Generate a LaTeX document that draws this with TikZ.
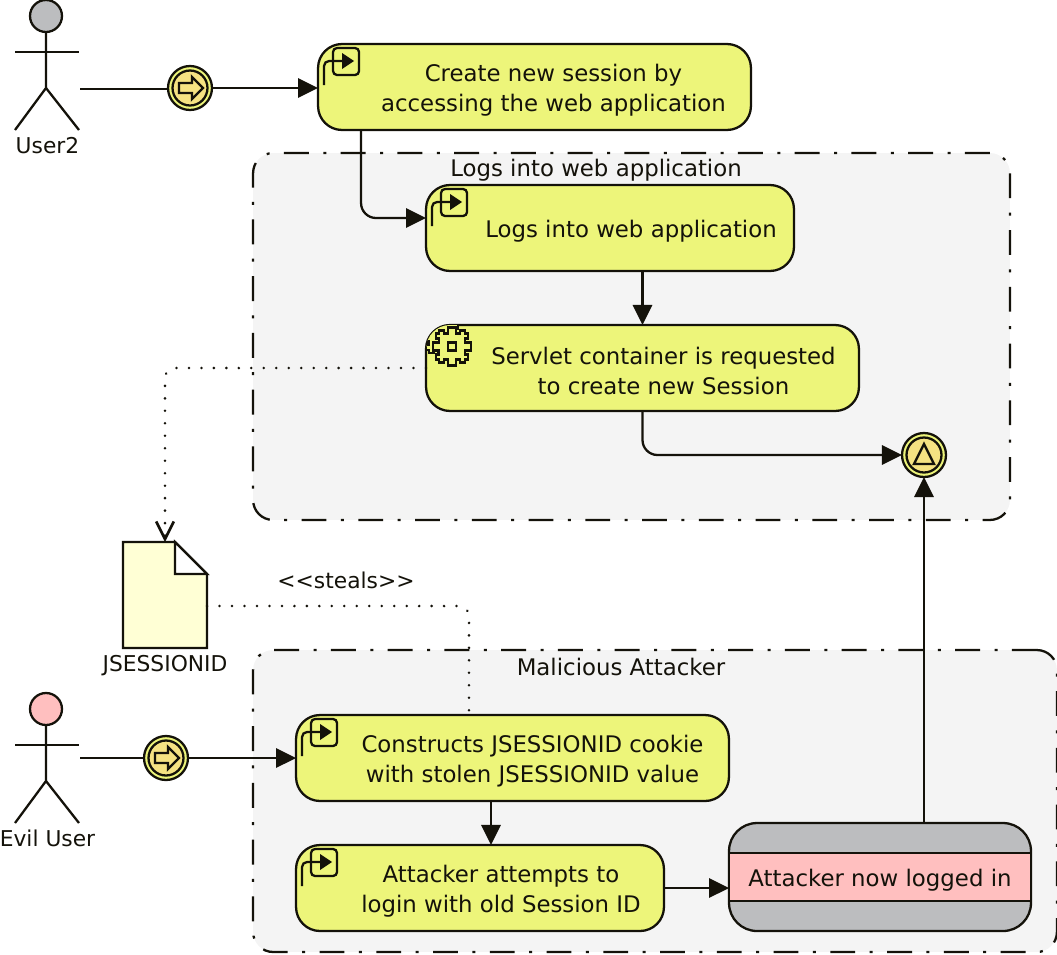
\documentclass[tikz,border=0pt]{standalone}
\usepackage{fontspec}
\setmainfont{DejaVu Sans}
\usepackage{xcolor}
\usepackage{tikz}
\usetikzlibrary{shapes, arrows.meta, positioning}
\definecolor{taskyellow}{RGB}{237, 245, 122}
\definecolor{eventyellow}{RGB}{245, 226, 130}
\definecolor{groupgrey}{RGB}{244, 244, 244}
\definecolor{headgrey}{RGB}{188, 189, 191}
\definecolor{evilpink}{RGB}{255, 191, 191}
\definecolor{docyellow}{RGB}{255, 255, 213}
\definecolor{inkblack}{RGB}{20, 18, 10}
\tikzset{
  every node/.style={outer sep=0pt, text=inkblack, font=\fontsize{13}{17}\selectfont},
  line/.style={draw=inkblack, line width=1.3pt},
  flow/.style={line, rounded corners=0.3cm, -{Triangle[length=11.4pt, width=11pt]}},
  assoc/.style={draw=inkblack, line width=1.5pt, line cap=round, dash pattern=on 0.1pt off 7pt, rounded corners=0.2cm},
  taskbox/.style={line, fill=taskyellow, rounded corners=0.48cm, inner sep=0pt},
  tasktext/.style={align=center, inner sep=0pt, yshift=-0.06cm},
  groupbox/.style={draw=inkblack, line width=1.3pt, fill=groupgrey, rounded corners=0.4cm, inner sep=0pt,
    dash pattern=on 14.2pt off 8.2pt on 1.7pt off 8.2pt},
  eventring/.style={circle, line, fill=taskyellow, minimum size=0.88cm, inner sep=0pt},
  actortext/.style={inner sep=0pt, font=\fontsize{12.4}{17}\selectfont}
}
\newcommand{\gearoutline}{
  ([rotate=0]-4,-19) \foreach \a in {0,-90,-180,-270} {
    -- ([rotate=\a]4,-19) -- ([rotate=\a]4,-13) -- ([rotate=\a]8,-13) -- ([rotate=\a]8,-16)
    -- ([rotate=\a]13,-16) -- ([rotate=\a]13,-13) -- ([rotate=\a]16,-13) -- ([rotate=\a]16,-8)
    -- ([rotate=\a]13,-8) -- ([rotate=\a]13,-4) -- ([rotate=\a]19,-4) } -- cycle
}
\begin{document}
\begin{tikzpicture}[x=0.02cm, y=-0.02cm]
  \useasboundingbox (0,0) rectangle (1057,954);

  \node[groupbox, minimum width=15.14cm, minimum height=7.34cm] (logingroup) at (631.5,336.5) {};
  \node[groupbox, minimum width=16.08cm, minimum height=6.04cm] (attackgroup) at (655,801) {};
  \node[tasktext] (logingrouptitle) at (596,167) {Logs into web application};
  \node[tasktext] (attackgrouptitle) at (621,664) {Malicious Attacker};

  \node[taskbox, minimum width=8.66cm, minimum height=1.72cm] (createtask) at (534.5,87) {};
  \node[taskbox, minimum width=7.36cm, minimum height=1.72cm] (logintask) at (610,228) {};
  \node[taskbox, minimum width=8.66cm, minimum height=1.72cm] (servlettask) at (642.5,368) {};
  \node[taskbox, minimum width=8.66cm, minimum height=1.72cm] (constructtask) at (512.5,758) {};
  \node[taskbox, minimum width=7.36cm, minimum height=1.72cm] (attempttask) at (480,888) {};

  \node[tasktext] (createtext) at ([xshift=0.38cm]createtask.center) {Create new session by\\accessing the web application};
  \node[tasktext] (logintext) at ([xshift=0.42cm]logintask.center) {Logs into web application};
  \node[tasktext] (servlettext) at ([xshift=0.42cm]servlettask.center) {Servlet container is requested\\to create new Session};
  \node[tasktext] (constructtext) at ([xshift=0.4cm]constructtask.center) {Constructs JSESSIONID cookie\\with stolen JSESSIONID value};
  \node[tasktext] (attempttext) at ([xshift=0.42cm]attempttask.center) {Attacker attempts to\\login with old Session ID};

  % user task marker
  \foreach \t in {createtask, logintask, constructtask, attempttask} {
    \begin{scope}[shift={(\t.north west)}]
      \draw[line, fill=taskyellow, rounded corners=0.08cm] (15,4) rectangle (41,31);
      \draw[line, rounded corners=0.1cm] (6,41) -- (6,17) -- (24,17);
      \fill[inkblack] (24,9) -- (36,17) -- (24,25) -- cycle;
    \end{scope}
  }

  % gears
  \begin{scope}
    \clip[rounded corners=0.48cm] (servlettask.south west) rectangle (servlettask.north east);
    \begin{scope}[shift={(servlettask.north west)}, shift={(16,12)}]
      \draw[line, fill=taskyellow] \gearoutline;
    \end{scope}
  \end{scope}
  \begin{scope}[shift={(servlettask.north west)}, shift={(26,21.5)}]
    \draw[line, fill=taskyellow] \gearoutline;
    \draw[line] (-4,-4) rectangle (4,4);
  \end{scope}

  % actors
  \foreach \who/\top/\handy/\col/\txt in {user/0/89/headgrey/User2, evil/693/65/evilpink/Evil User} {
    \begin{scope}[yshift=-0.02cm*\top]
      \node[circle, line, fill=\col, minimum size=0.64cm, inner sep=0pt] (\who head) at (46,16) {};
      \draw[line] (\who head.south) -- (46,88) -- (15,130);
      \draw[line] (46,88) -- (79,130);
      \draw[line] (15,52) -- (79,52);
      \node[actortext] (\who name) at (47.5,145.5) {\txt};
      \coordinate (\who hand) at (80,\handy);
    \end{scope}
  }

  % start and end events
  \foreach \e/\ex/\ey in {userstart/190/88, evilstart/166/758} {
    \node[eventring] (\e) at (\ex,\ey) {};
    \node[circle, line, fill=eventyellow, minimum size=0.7cm, inner sep=0pt] (\e core) at (\e.center) {};
    \draw[line, fill=eventyellow, shift={(\e.center)}] (-11,-5) -- (2,-5) -- (2,-11) -- (13,0) -- (2,11) -- (2,5) -- (-11,5) -- cycle;
  }
  \node[eventring] (loggedend) at (924,455) {};
  \node[circle, line, fill=eventyellow, minimum size=0.7cm, inner sep=0pt] (loggedendcore) at (loggedend.center) {};
  \draw[line, shift={(loggedend.center)}] (0,-11) -- (10,9) -- (-10,9) -- cycle;

  % document
  \node[minimum width=1.68cm, minimum height=2.12cm, inner sep=0pt] (jsessiondoc) at (165,595) {};
  \draw[line, fill=docyellow] (123,542) -- (175,542) -- (207,574) -- (207,648) -- (123,648) -- cycle;
  \draw[line, fill=white] (175,542) -- (207,574) -- (175,574) -- cycle;
  \node[actortext] (jsessionname) at (165,666) {JSESSIONID};
  \node[actortext] (stealslabel) at (346,580) {<{}<steals>{}>};

  % state
  \node[line, fill=headgrey, rounded corners=0.56cm, minimum width=6.04cm, minimum height=2.16cm, inner sep=0pt] (loggedbox) at (880,877) {};
  \node[line, fill=evilpink, minimum width=6.04cm, minimum height=0.96cm, inner sep=0pt] (loggedband) at (880,877) {};
  \node[tasktext] (loggedtext) at (loggedband.center) {Attacker now logged in};

  \draw[line] (userhand) -- (userhand -| userstart.west);
  \draw[flow] (userstart.east) -- (userstart.east -| createtask.west);
  \draw[line] (evilhand) -- (evilhand -| evilstart.west);
  \draw[flow] (evilstart.east) -- (evilstart.east -| constructtask.west);
  \draw[flow] ([xshift=0.86cm]createtask.south west) |- ([yshift=0.2cm]logintask.west);
  \draw[flow] (servlettask.north |- logintask.south) -- (servlettask.north);
  \draw[flow] (servlettask.south) |- (loggedend.west);
  \draw[flow] ([xshift=0.22cm]attempttask.north |- constructtask.south) -- ([xshift=0.22cm]attempttask.north);
  \draw[flow] (attempttask.east) -- (attempttask.east -| loggedbox.west);
  \draw[flow] (loggedend.south |- loggedbox.north) -- (loggedend.south);

  \draw[assoc, -{Straight Barb[length=10pt, width=10pt]}] (servlettask.west) -| (jsessiondoc.north);
  \draw[assoc] ([yshift=-0.22cm]jsessiondoc.east) -| ([xshift=-0.87cm]constructtask.north);
\end{tikzpicture}
\end{document}
